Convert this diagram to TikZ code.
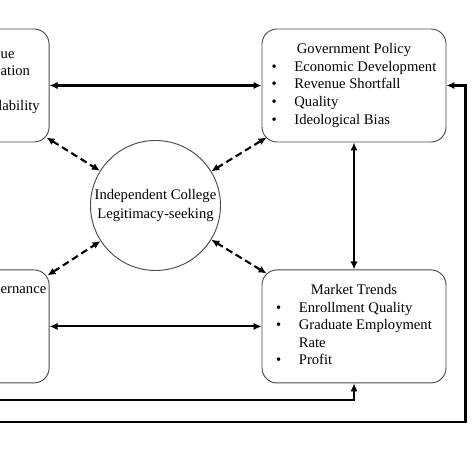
\documentclass[tikz,border=0pt]{standalone}
\usepackage{fontspec}
\setmainfont{Liberation Serif}
\usetikzlibrary{arrows.meta,calc,positioning}
\definecolor{BoxGray}{HTML}{4A4A4A}

\begin{document}
\begin{tikzpicture}[x=0.3mm,y=-0.3mm,
      box/.style={draw=BoxGray,line width=0.8pt,rounded corners=4.5mm,
        minimum width=55.2mm,minimum height=33.9mm,inner sep=0pt,
        font=\fontsize{12.5}{14.94}\selectfont},
      hub/.style={draw=BoxGray,line width=0.8pt,circle,minimum size=39mm,
        inner sep=0pt,align=center,font=\fontsize{12.5}{15.4}\selectfont},
      frag/.style={anchor=base west,inner sep=0pt,font=\fontsize{12.5}{14.94}\selectfont},
      arrow/.style={{Latex[length=2.4mm,width=2.2mm]}-{Latex[length=2.4mm,width=2.2mm]},
        line width=1.8pt},
      oneway/.style={-{Latex[length=2.4mm,width=2.2mm]},line width=1.8pt},
      dasharrow/.style={arrow,dash pattern=on 2.1mm off 1.2mm}
    ]
      \clip (0,0) rectangle (474,474);
      \node[box] (gov) at (354,85.5) {%
        \begin{tabular}{@{}l@{\hspace{15pt}}l@{}}
          \multicolumn{2}{c}{Government Policy}\\
          \textbullet & Economic Development\\
          \textbullet & Revenue Shortfall\\
          \textbullet & Quality\\
          \textbullet & Ideological Bias
        \end{tabular}};
      \node[box,below=38.1mm of gov] (mkt) {%
        \begin{tabular}{@{}l@{\hspace{15pt}}l@{}}
          \multicolumn{2}{c}{Market Trends}\\
          \textbullet & Enrollment Quality\\
          \textbullet & Graduate Employment\\
                      & Rate\\
          \textbullet & Profit
        \end{tabular}};
      \node[box,left=63.6mm of gov] (ltop) {};
      \node[box,below=38.1mm of ltop] (lbot) {};
      \node[hub] (circ) at (155.5,205.5) {Independent College\\Legitimacy-seeking};
      % text of the left boxes, as far as it shows
      \node[frag] (ltopa) at (0.5,58.5) {ue};
      \node[frag] (ltopb) at (0.5,76) {ation};
      \node[frag,anchor=base east] (ltopc) at (40,111) {lability};
      \node[frag] (lbota) at (0.5,293) {ernance};

      \coordinate (ltopx) at ($(ltop.south east)+(-3,-5)$);
      \coordinate (lbotx) at ($(lbot.north east)+(-2,6)$);
      \coordinate (govx) at ($(gov.south west)+(5,-5)$);
      \coordinate (mktx) at ($(mkt.north west)+(5,4)$);
      \coordinate (feedgov) at (-5,422);
      \coordinate (feedmkt) at (-5,400);
      \coordinate (govturn) at ($(gov.east)+(19,0)$);

      \draw[arrow] (ltop) -- (gov);
      \draw[arrow] (lbot) -- (mkt);
      \draw[arrow] (gov) -- (mkt);
      \draw[dasharrow] (ltopx) -- (circ);
      \draw[dasharrow] (lbotx) -- (circ);
      \draw[dasharrow] (govx) -- (circ);
      \draw[dasharrow] (mktx) -- (circ);
      \draw[oneway] (feedgov) -| (govturn) -- (gov.east);
      \draw[oneway] (feedmkt) -| (mkt.south);
    \end{tikzpicture}
\end{document}
